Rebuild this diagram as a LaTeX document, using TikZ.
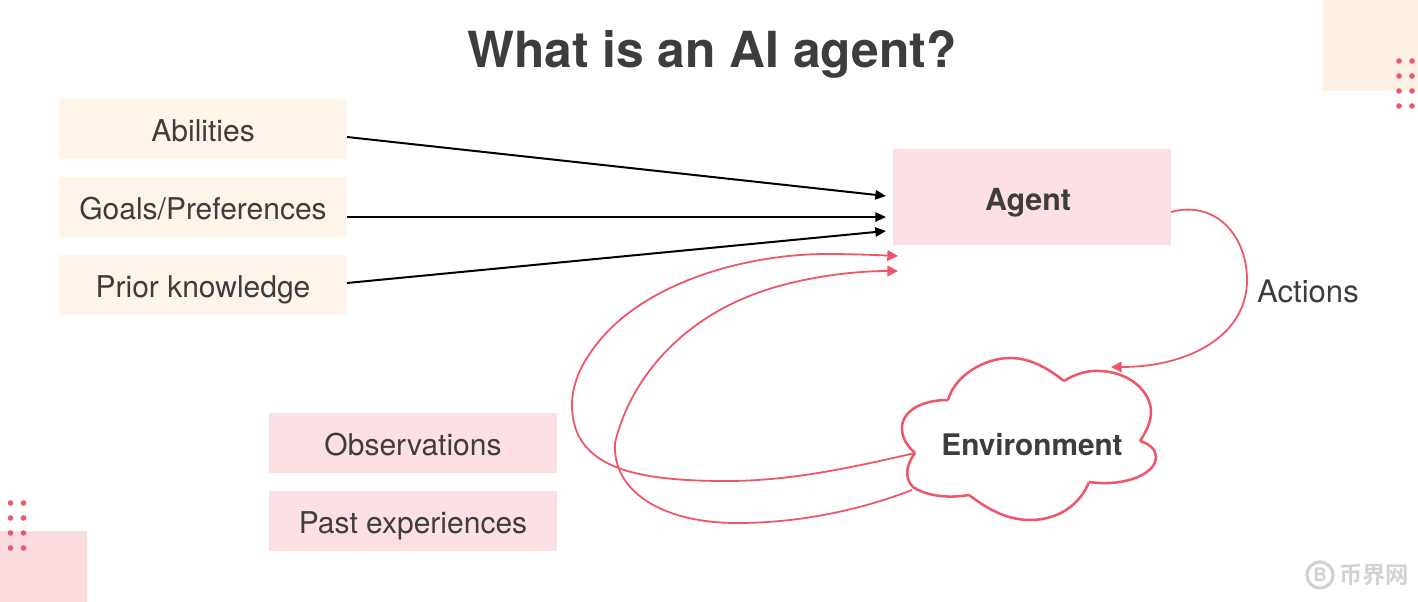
\documentclass[tikz,border=0pt]{standalone}
\usepackage{fontspec}
\setmainfont{TeX Gyre Heros}
\newfontfamily\cjkfont{Noto Sans CJK SC}[BoldFont={* Bold}]
\usetikzlibrary{arrows.meta}
\definecolor{peach}{HTML}{FFF4EA}
\definecolor{peachc}{HTML}{FEF0E4}
\definecolor{pinkb}{HTML}{FDE0E3}
\definecolor{pinkc}{HTML}{FBDDE0}
\definecolor{redl}{HTML}{F0566A}
\definecolor{ink}{HTML}{3D3D3D}
\definecolor{wm}{HTML}{D2D2D2}
\tikzset{
  labelbox/.style={minimum width=216pt,minimum height=45pt,inner sep=0pt,text=ink,font=\fontsize{22.5}{22.5}\selectfont,text height=18.6pt,text depth=0pt},
  peachbox/.style={labelbox,fill=peach},
  pinkbox/.style={labelbox,fill=pinkb},
  blackarrow/.style={draw=black,line width=1.5pt,-{Triangle[length=8pt,width=7pt]}},
  redarrow/.style={draw=redl,line width=1.35pt,-{Triangle[length=8pt,width=8pt]}},
  dotc/.style={fill=redl}
}
\begin{document}
\begin{tikzpicture}[x=0.75pt,y=-0.75pt]
\useasboundingbox (0,0) rectangle (1418,602);
% corners
\fill[peachc] (1323,0) rectangle (1418,91);
\fill[pinkc] (0,531) rectangle (87,602);
\foreach \y in {61,76,91,106} \foreach \x in {1399,1412} \fill[dotc] (\x,\y) circle[radius=2.1pt];
\foreach \y in {503,518,533,548} \foreach \x in {10.5,23.5} \fill[dotc] (\x,\y) circle[radius=2.1pt];
% title
\node[text=ink,font=\fontsize{37.3}{37.3}\selectfont\bfseries,inner sep=0pt] (title) at (712,54) {What is an AI agent?};
% boxes
\node[peachbox] (abil) at (203,129) {Abilities};
\node[peachbox] (goals) at (203,207) {Goals/Preferences};
\node[peachbox] (prior) at (203,285) {Prior knowledge};
\node[pinkbox] (obs) at (413,443) {Observations};
\node[pinkbox] (past) at (413,521) {Past experiences};
\node[fill=pinkb,minimum width=208.5pt,minimum height=72pt,inner sep=0pt] (agent) at (1032,197) {};
\node[text=ink,font=\fontsize{22.8}{22.8}\selectfont\bfseries,inner sep=0pt] (agentlabel) at (1028,203) {Agent};
% cloud
\coordinate (c1) at (948,400);
\coordinate (c2) at (1064,381);
\coordinate (c3) at (1140,441);
\coordinate (c4) at (1089,482);
\coordinate (c5) at (969,495);
\coordinate (c6) at (915,453);
\draw[redl,line width=1.9pt,line join=miter,fill=white]
 (c6) .. controls (905,444) and (902,436) .. (902,428)
      .. controls (902,412) and (920,400) .. (948,400)
 (c1) .. controls (955,375) and (985,358) .. (1010,358)
      .. controls (1032,358) and (1050,370) .. (1064,381)
 (c2) .. controls (1075,374) and (1088,370) .. (1100,371)
      .. controls (1130,372) and (1151,392) .. (1151,412)
      .. controls (1151,422) and (1146,432) .. (1140,441)
 (c3) .. controls (1150,444) and (1156,450) .. (1156,457)
      .. controls (1156,474) and (1125,487) .. (1089,482)
 (c4) .. controls (1080,505) and (1058,520) .. (1030,520)
      .. controls (1005,520) and (985,507) .. (969,495)
 (c5) .. controls (945,499) and (925,495) .. (913,487)
      .. controls (906,480) and (904,468) .. (915,453);
\node[text=ink,font=\fontsize{22.3}{22.3}\selectfont\bfseries,inner sep=0pt] (env) at (1032,445) {Environment};
\node[text=ink,font=\fontsize{23.3}{23.3}\selectfont,inner sep=0pt] (actions) at (1308,291) {Actions};
% black arrows
\coordinate (s1) at (347,137);
\coordinate (s2) at (347,217);
\coordinate (s3) at (347,283);
\coordinate (e1) at (886,196);
\coordinate (e2) at (886,217);
\coordinate (e3) at (886,231);
\draw[blackarrow] (s1) -- (e1);
\draw[blackarrow] (s2) -- (e2);
\draw[blackarrow] (s3) -- (e3);
% red arrows
\coordinate (r1) at (898,256);
\coordinate (r2) at (898,271);
\coordinate (e5) at (912,490);
\coordinate (a1) at (1171,212);
\coordinate (a2) at (1111,367);
\draw[redarrow] (c6) .. controls (850,468) and (790,481) .. (727,481)
   .. controls (640,481) and (572,470) .. (572,405)
   .. controls (572,380) and (585,358) .. (600,340)
   .. controls (650,280) and (750,254) .. (827,254)
   .. controls (850,254) and (875,255) .. (r1);
\draw[redarrow] (e5) .. controls (860,510) and (800,523) .. (737,523)
   .. controls (660,523) and (612,490) .. (615,443)
   .. controls (630,380) and (680,320) .. (760,292)
   .. controls (800,278) and (850,271) .. (r2);
\draw[redarrow] (a1) .. controls (1215,200) and (1247,235) .. (1247,280)
   .. controls (1247,335) and (1190,367) .. (a2);
% watermark
\draw[wm,line width=2.4pt] (1320,575) circle[radius=9.8pt];
\node[text=wm,font=\fontsize{14}{14}\selectfont\bfseries,inner sep=0pt] (wmb) at (1320,575) {B};
\node[text=wm,font=\cjkfont\fontsize{17.5}{17.5}\selectfont\bfseries,inner sep=0pt] (wmt) at (1374,575) {币界网};
\end{tikzpicture}
\end{document}
